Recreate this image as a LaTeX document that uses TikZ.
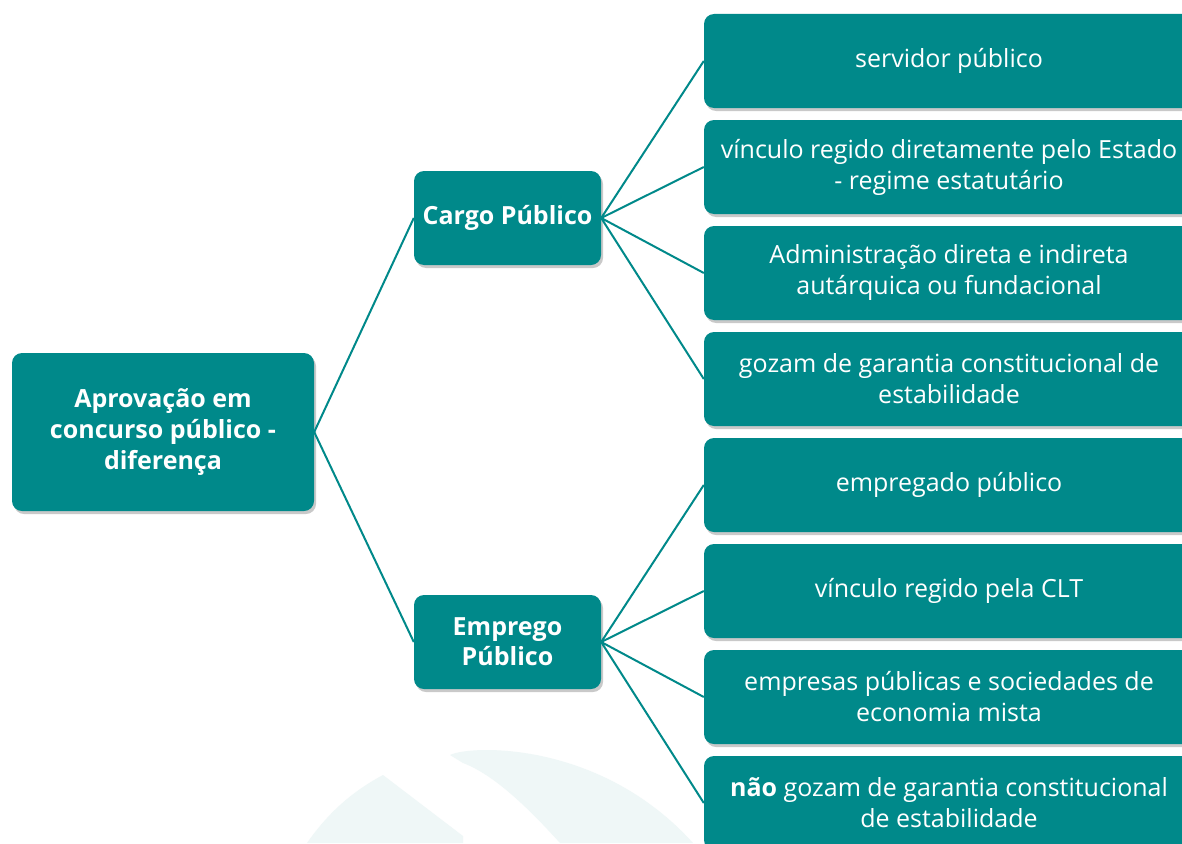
\documentclass[tikz,border=0pt]{standalone}
\usepackage{fontspec}
\setmainfont{Open Sans}
\usetikzlibrary{shadows}
\definecolor{teal1}{HTML}{00898A}
\definecolor{wm}{HTML}{EFF7F7}
\begin{document}
\begin{tikzpicture}[x=1pt,y=-1pt,
  box/.style={draw=none,fill=teal1,rounded corners=10pt,text=white,align=center,
    font=\fontsize{25}{31}\selectfont,inner sep=0pt,
    drop shadow={opacity=0.35,shadow xshift=2pt,shadow yshift=-3pt,fill=black!60}},
  leaf/.style={box,minimum width=490pt,minimum height=94pt},
  mid/.style={box,minimum width=187pt,minimum height=94pt,font=\fontsize{25}{30}\selectfont\bfseries},
  conn/.style={draw=teal1,line width=2pt}]
\useasboundingbox (0,0) rectangle (1182,843);
\fill[white] (0,0) rectangle (1182,843);
% watermark
\fill[wm] (307,843) .. controls (330,810) and (355,790) .. (383,775) -- (463,836) -- (463,843) -- cycle;
\fill[wm] (450,755) .. controls (470,745) and (600,740) .. (693,843) -- (560,843) .. controls (530,810) and (495,775) .. (463,763) -- cycle;
% nodes
\node[box,minimum width=302pt,minimum height=158pt,font=\fontsize{25}{31}\selectfont\bfseries] (root) at (163,432) {Aprovação em\\concurso público -\\diferença};
\node[mid] (cargo) at (507.5,218) {Cargo Público};
\node[mid] (emp) at (507.5,642) {Emprego\\Público};
\node[leaf] (c1) at (949,61) {servidor público};
\node[leaf] (c2) at (949,167) {vínculo regido diretamente pelo Estado\\- regime estatutário};
\node[leaf] (c3) at (949,273) {Administração direta e indireta\\autárquica ou fundacional};
\node[leaf] (c4) at (949,379) {gozam de garantia constitucional de\\estabilidade};
\node[leaf] (e1) at (949,485) {empregado público};
\node[leaf] (e2) at (949,591) {vínculo regido pela CLT};
\node[leaf] (e3) at (949,697) {empresas públicas e sociedades de\\economia mista};
\node[leaf] (e4) at (949,803) {\textbf{não} gozam de garantia constitucional\\de estabilidade};
% connectors
\draw[conn] (root.east) -- (cargo.west);
\draw[conn] (root.east) -- (emp.west);
\foreach \n in {c1,c2,c3,c4} \draw[conn] (cargo.east) -- (\n.west);
\foreach \n in {e1,e2,e3,e4} \draw[conn] (emp.east) -- (\n.west);
\end{tikzpicture}
\end{document}
